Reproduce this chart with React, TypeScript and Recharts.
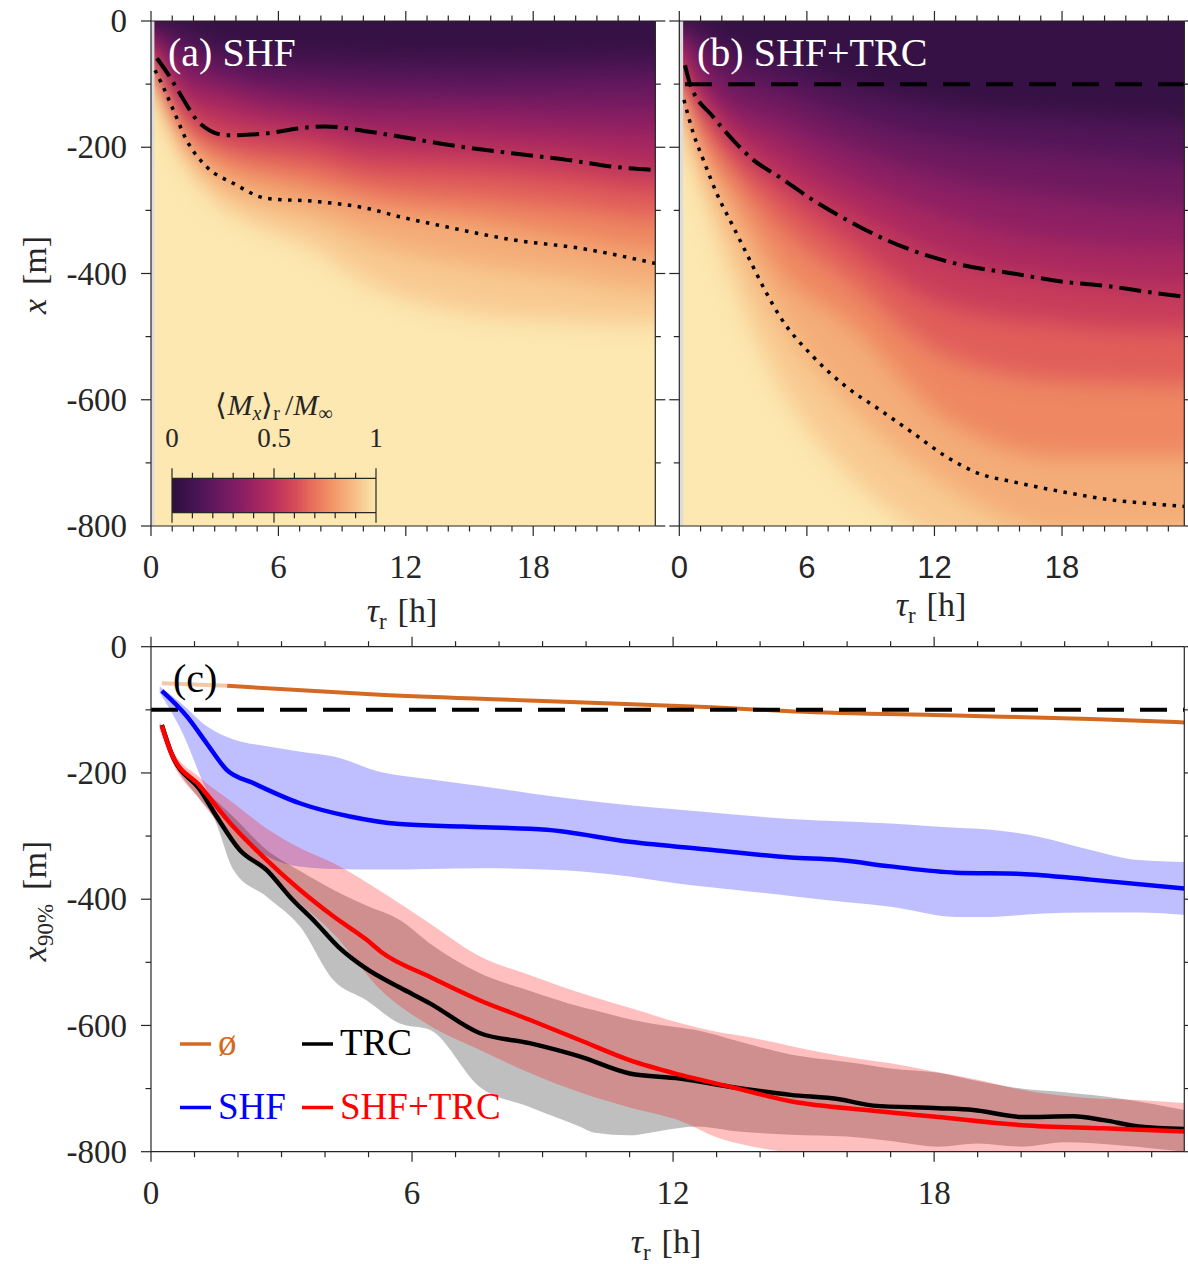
import React from "react";
import { ComposedChart, Area, Line, XAxis, YAxis } from "recharts";

const TAU_MAX = 23.75;
const HEAT_TOP = 150;
const HEAT_BOTTOM = -1000;
const SERIF = '"Liberation Serif", "Times New Roman", serif';
const SANS = '"Liberation Sans", Arial, sans-serif';
const INK = "#262626";
const ORANGE = "#d46a22";

// axis ticks
const hourTicks = [0, 1, 2, 3, 4, 5, 6, 7, 8, 9, 10, 11, 12, 13, 14, 15, 16, 17, 18, 19, 20, 21, 22, 23];
const hourMajors = [0, 6, 12, 18];
const depthTicks = [0, -100, -200, -300, -400, -500, -600, -700, -800];
const depthMajors = [0, -200, -400, -600, -800];
const cbarTicks = [0, 0.1, 0.2, 0.3, 0.4, 0.5, 0.6, 0.7, 0.8, 0.9, 1];
const cbarMajors = [0, 0.5, 1];
const cbarRange = [0, 1];

// colormap
const cmapValues = [0, 0.1, 0.2, 0.3, 0.4, 0.5, 0.6, 0.7, 0.8, 0.9, 0.95, 1];
const cmapColors = ["#2d0f3e", "#431350", "#5f185d", "#7d1c63", "#9c2362", "#ba2f5d", "#d64a58", "#ea735b", "#f29a69", "#f6c087", "#f9d49c", "#fce8b0"];

// contour levels of <Mx>_r / M_inf used to paint the two maps
const heatLevels = [0.1, 0.2, 0.3, 0.4, 0.5, 0.6, 0.7, 0.8, 0.9, 0.95];

// (a) SHF : depth of each level at these times
const aHeatTau = [0, 0.58, 1.68, 3.1, 5.45, 7.5, 10.2, 15.5, 19.5, 23.75];
const aC10 = [-0.5, -6, -15, -38, -55, -58, -60, -62, -60, -58];
const aC20 = [-1, -18, -45, -66, -87, -92, -98, -102, -98, -95];
const aC30 = [-8, -30, -75, -90, -112, -122, -130, -132, -138, -140];
const aC40 = [-18, -45, -105, -115, -138, -147, -162, -168, -175, -182];
const aC50 = [-34, -62, -128, -148, -165, -175, -195, -203, -212, -230];
const aC60 = [-44, -75, -148, -182, -198, -205, -228, -238, -250, -265];
const aC70 = [-50, -84, -163, -200, -226, -238, -262, -282, -295, -312];
const aC80 = [-56, -95, -180, -228, -255, -272, -295, -320, -345, -365];
const aC90 = [-62, -108, -200, -255, -292, -310, -348, -388, -405, -425];
const aC95 = [-70, -122, -222, -285, -330, -358, -415, -465, -475, -480];

// (b) SHF+TRC
const bHeatTau = [0, 0.3, 1, 2.5, 4.6, 8, 12.5, 18, 23.75];
const bC10 = [-1, -3, -12, -45, -65, -100, -135, -150, -160];
const bC20 = [-3, -8, -38, -80, -105, -152, -190, -210, -225];
const bC30 = [-10, -20, -68, -125, -150, -200, -250, -280, -295];
const bC40 = [-25, -40, -92, -152, -190, -250, -310, -350, -360];
const bC50 = [-45, -62, -110, -180, -235, -300, -375, -410, -425];
const bC60 = [-60, -80, -128, -205, -270, -355, -450, -480, -490];
const bC70 = [-72, -92, -155, -235, -320, -410, -530, -570, -575];
const bC80 = [-82, -105, -185, -275, -390, -480, -630, -690, -690];
const bC90 = [-98, -125, -210, -330, -465, -610, -735, -810, -810];
const bC95 = [-125, -160, -250, -410, -570, -720, -830, -890, -890];

// contour lines drawn over the maps
const aDashDotTau = [0.28, 0.9, 1.45, 2.3, 3.57, 5.45, 7.0, 8.2, 10.2, 11.7, 13.6, 17.1, 19.6, 21.8, 23.75];
const aDashDotVal = [-59, -89, -120, -162, -181, -178, -170, -167, -175, -183, -194, -210, -220, -231, -236];
const aDottedTau = [0.19, 0.57, 1.05, 1.68, 2.62, 3.87, 5.45, 7.8, 10.2, 11.7, 13.9, 17.1, 20.2, 23.75];
const aDottedVal = [-78, -104, -141, -189, -231, -257, -281, -286, -297, -310, -326, -347, -360, -384];
const bDashDotTau = [0.27, 0.5, 1.6, 2.54, 3.48, 4.7, 6.3, 7.87, 9.75, 11.8, 13.35, 15.7, 18.05, 20.4, 21.96, 23.75];
const bDashDotVal = [-70, -99, -152, -189, -220, -247, -284, -315, -347, -373, -387, -400, -413, -421, -429, -437];
const bDottedTau = [0.22, 0.66, 1.13, 1.76, 2.54, 3.32, 4.1, 4.73, 6.3, 7.87, 9.43, 11.0, 12.55, 14.1, 15.7, 18.05, 20.4, 21.96, 23.75];
const bDottedVal = [-125, -178, -220, -273, -326, -379, -431, -468, -532, -580, -616, -653, -690, -717, -730, -746, -759, -764, -769];
const refDepthB = [0.27, 23.75];
const refDepthC = [0, 23.75];
const refDepth = -100;

// (c) x90% series
const nullEarlyTau = [0.25, 1.75];
const nullEarlyVal = [-58, -62];
const nullTau = [1.75, 5.26, 9, 12.9, 14.8, 18.5, 21.6, 23.75];
const nullVal = [-62, -76, -86, -96, -102.5, -109, -114.5, -120];

const shfTau = [0.25, 0.82, 1.28, 1.74, 2.35, 3.42, 4.57, 5.72, 7.17, 9.09, 11, 12.9, 14.7, 15.8, 17, 18.5, 20, 21.6, 23.75];
const shfVal = [-70, -110, -153, -195, -216, -248, -269, -281, -285, -290, -309, -322, -334, -338, -348, -358, -360, -369, -383];
const shfBandTau = [0.2, 0.7, 1.3, 1.9, 2.7, 3.4, 4.2, 5.3, 6.4, 7.6, 8.7, 9.9, 11, 12.1, 13.4, 14.7, 16, 17, 18.5, 19.3, 20.4, 21.6, 22.7, 23.75];
const shfBandHi = [-63, -90, -127, -147, -158, -166, -174, -199, -210, -221, -232, -243, -251, -258, -266, -273, -277, -280, -287, -290, -301, -322, -338, -341];
const shfBandLo = [-73, -133, -230, -290, -333, -348, -352, -353, -352, -351, -352, -356, -364, -375, -385, -395, -405, -412, -428, -428, -423, -421, -421, -425];

const trcTau = [0.25, 0.47, 1.13, 1.51, 2.04, 2.66, 3.19, 3.8, 4.3, 4.95, 5.72, 6.41, 7.55, 8.7, 9.85, 11, 12.15, 13.3, 14.7, 15.82, 16.6, 18.1, 18.9, 20.03, 21.2, 21.9, 22.7, 23.75];
const trcVal = [-124, -169, -227, -269, -322, -354, -396, -438, -475, -510, -540, -565, -612, -628, -649, -676, -684, -697, -710, -717, -727, -731, -734, -745, -744, -750, -760, -764];
const trcBandTau = [0.2, 0.5, 1.1, 1.43, 1.9, 2.66, 3.42, 4.19, 4.95, 5.72, 6.41, 7.55, 8.7, 9.85, 10.2, 11, 11.8, 12.5, 13.5, 14.7, 16, 17, 18.1, 19, 20, 21, 22.3, 23.75];
const trcBandHi = [-122, -170, -222, -240, -270, -322, -355, -385, -410, -433, -470, -517, -545, -570, -576, -590, -600, -607, -625, -646, -658, -668, -675, -688, -700, -706, -716, -734];
const trcBandLo = [-128, -180, -240, -269, -354, -396, -443, -528, -560, -597, -607, -697, -729, -760, -770, -774, -766, -760, -768, -773, -776, -783, -792, -787, -792, -785, -790, -800];

const bothTau = [0.25, 0.47, 1.13, 1.89, 2.66, 3.42, 4.19, 4.95, 5.3, 6.41, 7.55, 8.7, 9.85, 11, 12.15, 13.3, 14.7, 16.6, 18.1, 20.03, 21.9, 23.75];
const bothVal = [-125, -169, -221, -285, -338, -385, -427, -464, -484, -523, -560, -591, -623, -655, -678, -697, -720, -735, -745, -758, -763, -768];
const bothBandTau = [0.2, 0.5, 1.1, 1.9, 2.7, 3.4, 4.2, 5.3, 6.4, 7.6, 8.7, 9.9, 11, 12.2, 13, 13.7, 14.8, 16, 17, 18, 19, 20, 21.5, 22.7, 23.75];
const bothBandHi = [-118, -165, -206, -248, -290, -318, -343, -388, -438, -492, -520, -549, -572, -597, -610, -618, -634, -650, -660, -673, -686, -702, -715, -718, -723];
const bothBandLo = [-132, -185, -240, -310, -360, -405, -455, -545, -600, -640, -675, -707, -730, -752, -777, -790, -800, -800, -800, -800, -800, -800, -800, -800, -800];

const legendNames = ["ø", "TRC", "SHF", "SHF+TRC"];
const legendColors = [ORANGE, "#000000", "#0000ff", "#ff0000"];

const zip = (taus: number[], vals: number[]) => taus.map((tau, i) => ({ tau, v: vals[i] }));
const zipBand = (taus: number[], hi: number[], lo: number[]) => taus.map((tau, i) => ({ tau, hi: hi[i], lo: lo[i] }));

function hexRgb(h: string) {
  const n = parseInt(h.slice(1), 16);
  return [n >> 16, (n >> 8) & 255, n & 255];
}

function cmap(v: number) {
  let i = 0;
  while (i < cmapValues.length - 2 && v > cmapValues[i + 1]) i++;
  const t = Math.max(0, Math.min(1, (v - cmapValues[i]) / (cmapValues[i + 1] - cmapValues[i])));
  const a = hexRgb(cmapColors[i]);
  const b = hexRgb(cmapColors[i + 1]);
  return `rgb(${a.map((x, k) => Math.round(x + (b[k] - x) * t)).join(",")})`;
}

function heatRows(taus: number[], contours: number[][]) {
  const rows = taus.map((tau, i) => {
    const r: any = { tau };
    contours.forEach((c, k) => (r["c" + k] = c[i]));
    return r;
  });
  // repeat the edge columns outside the plot so the softened edges get clipped away
  return [{ ...rows[0], tau: -3 }, ...rows, { ...rows[rows.length - 1], tau: 27 }];
}

type Side = "bottom" | "top" | "left" | "right";

function tickMark(side: Side, majors: number[], labelled: boolean, font = SERIF, size = 33, gap?: number) {
  return (props: any) => {
    const { x, y, payload } = props;
    const v = payload.value;
    const major = majors.some((m) => Math.abs(m - v) < 1e-9);
    const len = major ? 10 : 5.5;
    const dx = side === "left" ? -len : side === "right" ? len : 0;
    const dy = side === "bottom" ? len : side === "top" ? -len : 0;
    let label = null;
    if (labelled && major) {
      const common = { fontFamily: font, fontSize: size, fill: INK, style: { fontFamily: font } };
      if (side === "bottom") label = <text x={x} y={y + (gap ?? 52)} textAnchor="middle" {...common}>{String(v)}</text>;
      if (side === "top") label = <text x={x} y={y - (gap ?? 32)} textAnchor="middle" {...common}>{String(v)}</text>;
      if (side === "left") label = <text x={x - (gap ?? 24)} y={y} dy="0.34em" textAnchor="end" {...common}>{String(v)}</text>;
    }
    return (
      <g>
        <line x1={x} y1={y} x2={x + dx} y2={y + dy} stroke={INK} strokeWidth={1.2} />
        {label}
      </g>
    );
  };
}

function frameAxes(xFont: string, xSize: number, yLabels: boolean) {
  const common: any = {
    type: "number",
    allowDataOverflow: true,
    interval: 0,
    tickLine: false,
    tickSize: 0,
    tickMargin: 0,
    axisLine: { stroke: INK, strokeWidth: 1.2 },
  };
  return [
    <XAxis key="xb" xAxisId="b" dataKey="tau" orientation="bottom" height={2} domain={[0, TAU_MAX]} ticks={hourTicks} tick={tickMark("bottom", hourMajors, true, xFont, xSize)} {...common} />,
    <XAxis key="xt" xAxisId="t" dataKey="tau" orientation="top" height={2} domain={[0, TAU_MAX]} ticks={hourTicks} tick={tickMark("top", hourMajors, false)} {...common} />,
    <YAxis key="yl" yAxisId="l" orientation="left" width={2} domain={[-800, 0]} ticks={depthTicks} tick={tickMark("left", depthMajors, yLabels)} {...common} />,
    <YAxis key="yr" yAxisId="r" orientation="right" width={2} domain={[-800, 0]} ticks={depthTicks} tick={tickMark("right", depthMajors, false)} {...common} />,
  ];
}

function HeatPanel({ left, width, margin, rows, stripEnd, lines, xFont, xSize, yLabels }: any) {
  const layers = heatLevels
    .map((lvl, k) => ({ k, fill: cmap(k === 0 ? 0.04 : (heatLevels[k - 1] + lvl) / 2) }))
    .reverse();
  return (
    <div style={{ position: "absolute", left, top: 0 }}>
      <ComposedChart width={width} height={650} data={rows} margin={margin}>
        {frameAxes(xFont, xSize, yLabels)}
        <Area xAxisId="b" yAxisId="l" dataKey={() => [HEAT_TOP, HEAT_BOTTOM]} type="linear" fill={cmap(1)} fillOpacity={1} stroke="none" dot={false} activeDot={false} isAnimationActive={false} />
        {layers.map(({ k, fill }) => (
          <Area
            key={k}
            className="heat-band"
            xAxisId="b"
            yAxisId="l"
            dataKey={(r: any) => [HEAT_TOP, r["c" + k]]}
            type="monotone"
            fill={fill}
            fillOpacity={1}
            stroke="none"
            dot={false}
            activeDot={false}
            isAnimationActive={false}
          />
        ))}
        <Area xAxisId="b" yAxisId="l" data={[{ tau: 0 }, { tau: stripEnd }]} dataKey={() => [HEAT_TOP, HEAT_BOTTOM]} type="linear" fill="#dcdcdc" fillOpacity={1} stroke="none" dot={false} activeDot={false} isAnimationActive={false} />
        {lines.map((l: any, i: number) => (
          <Line
            key={i}
            xAxisId="b"
            yAxisId="l"
            data={l.data}
            dataKey="v"
            type="monotone"
            stroke="#000"
            strokeWidth={l.width}
            strokeDasharray={l.dash}
            dot={false}
            activeDot={false}
            isAnimationActive={false}
          />
        ))}
      </ComposedChart>
    </div>
  );
}

function ColorBar() {
  const rows = cbarRange.map((c) => ({ c }));
  const axis: any = { type: "number", domain: [0, 1], allowDataOverflow: true, interval: 0, tickLine: false, tickSize: 0, tickMargin: 0 };
  return (
    <div style={{ position: "absolute", left: 130, top: 380 }}>
      <ComposedChart width={300} height={160} data={rows} margin={{ top: 96.3, right: 53, bottom: 25.3, left: 41 }}>
        <XAxis xAxisId="t" dataKey="c" orientation="top" height={2} ticks={cbarTicks} axisLine={{ stroke: INK, strokeWidth: 1.2 }} tick={tickMark("top", cbarMajors, true, SERIF, 27, 31.6)} {...axis} />
        <XAxis xAxisId="b" dataKey="c" orientation="bottom" height={2} ticks={cbarTicks} axisLine={{ stroke: INK, strokeWidth: 1.2 }} tick={tickMark("bottom", cbarMajors, false)} {...axis} />
        <YAxis yAxisId="l" orientation="left" width={1} tick={false} ticks={[]} axisLine={{ stroke: INK, strokeWidth: 1.2 }} {...axis} />
        <YAxis yAxisId="r" orientation="right" width={1} tick={false} ticks={[]} axisLine={{ stroke: INK, strokeWidth: 1.2 }} {...axis} />
        <Area xAxisId="t" yAxisId="l" dataKey={() => [0, 1]} type="linear" fill="url(#cbarGrad)" fillOpacity={1} stroke="none" dot={false} activeDot={false} isAnimationActive={false} />
      </ComposedChart>
    </div>
  );
}

function SpreadPanel() {
  const band = (data: any[], color: string) => (
    <Area xAxisId="b" yAxisId="l" data={data} dataKey={(d: any) => [d.lo, d.hi]} type="monotone" fill={color} fillOpacity={0.25} stroke="none" dot={false} activeDot={false} isAnimationActive={false} />
  );
  const line = (data: any[], color: string, width: number, dash?: string) => (
    <Line xAxisId="b" yAxisId="l" data={data} dataKey="v" type="monotone" stroke={color} strokeWidth={width} strokeDasharray={dash} dot={false} activeDot={false} isAnimationActive={false} />
  );
  return (
    <div style={{ position: "absolute", left: 0, top: 630 }}>
      <ComposedChart width={1188} height={634} margin={{ top: 14.7, right: 1.7, bottom: 110.3, left: 149 }}>
        {frameAxes(SERIF, 33, true)}
        {band(zipBand(shfBandTau, shfBandHi, shfBandLo), "#0000ff")}
        {band(zipBand(trcBandTau, trcBandHi, trcBandLo), "#000000")}
        {band(zipBand(bothBandTau, bothBandHi, bothBandLo), "#ff0000")}
        {line(zip(nullEarlyTau, nullEarlyVal), "#f3c8a6", 4)}
        {line(zip(nullTau, nullVal), ORANGE, 4)}
        {line(refDepthC.map((tau) => ({ tau, v: refDepth })), "#000000", 4, "27 16")}
        {line(zip(shfTau, shfVal), "#0000ff", 4.5)}
        {line(zip(trcTau, trcVal), "#000000", 4.5)}
        {line(zip(bothTau, bothVal), "#ff0000", 4.5)}
      </ComposedChart>
    </div>
  );
}

function TauTitle({ cx, y }: { cx: number; y: number }) {
  return (
    <text x={cx} y={y} textAnchor="middle" fontFamily={SERIF} fontSize={34} fill={INK}>
      <tspan fontStyle="italic">τ</tspan>
      <tspan fontSize={23} dy={7}>r</tspan>
      <tspan dx={11} dy={-7}>[h]</tspan>
    </text>
  );
}

function Annotations() {
  const cols = [180, 302];
  const rows = [1044, 1107.5];
  return (
    <svg width={1188} height={1264} style={{ position: "absolute", left: 0, top: 0, pointerEvents: "none" }}>
      <text x={168} y={66} fontFamily={SERIF} fontSize={40} fill="#ffffff">(a) SHF</text>
      <text x={697} y={66} fontFamily={SERIF} fontSize={40} fill="#ffffff">(b) SHF+TRC</text>
      <text x={173} y={692} fontFamily={SERIF} fontSize={40} fill="#000000">(c)</text>

      <TauTitle cx={402} y={622} />
      <TauTitle cx={931} y={616} />
      <TauTitle cx={666} y={1253} />

      <text transform="translate(46 275) rotate(-90)" textAnchor="middle" fontFamily={SERIF} fontSize={34} fill={INK}>
        <tspan fontStyle="italic">x</tspan>
        <tspan dx={14}>[m]</tspan>
      </text>
      <text transform="translate(46 901) rotate(-90)" textAnchor="middle" fontFamily={SERIF} fontSize={34} fill={INK}>
        <tspan fontStyle="italic">x</tspan>
        <tspan fontSize={23} dy={7}>90%</tspan>
        <tspan dx={14} dy={-7}>[m]</tspan>
      </text>

      <text x={274} y={415} textAnchor="middle" fontFamily={SERIF} fontSize={30} fill={INK}>
        ⟨<tspan fontStyle="italic">M</tspan>
        <tspan fontSize={20} dy={5} fontStyle="italic">x</tspan>
        <tspan dy={-5}>⟩</tspan>
        <tspan fontSize={20} dy={5}>r</tspan>
        <tspan dx={5} dy={-5}>/</tspan>
        <tspan fontStyle="italic">M</tspan>
        <tspan fontSize={20} dy={5}>∞</tspan>
      </text>

      {legendNames.map((name, i) => {
        const x = cols[i % 2];
        const y = rows[Math.floor(i / 2)];
        return (
          <g key={name}>
            <line x1={x} y1={y} x2={x + 31} y2={y} stroke={legendColors[i]} strokeWidth={3.5} />
            <text x={x + 38} y={y + 11} fontFamily={SERIF} fontSize={37} fill={legendColors[i]}>{name}</text>
          </g>
        );
      })}
    </svg>
  );
}

export default function App() {
  const rowsA = heatRows(aHeatTau, [aC10, aC20, aC30, aC40, aC50, aC60, aC70, aC80, aC90, aC95]);
  const rowsB = heatRows(bHeatTau, [bC10, bC20, bC30, bC40, bC50, bC60, bC70, bC80, bC90, bC95]);
  const linesA = [
    { data: zip(aDottedTau, aDottedVal), dash: "3.5 6.5", width: 3.5 },
    { data: zip(aDashDotTau, aDashDotVal), dash: "22 7 3.5 7", width: 4 },
  ];
  const linesB = [
    { data: zip(bDottedTau, bDottedVal), dash: "3.5 6.5", width: 3.5 },
    { data: zip(bDashDotTau, bDashDotVal), dash: "22 7 3.5 7", width: 4 },
    { data: refDepthB.map((tau) => ({ tau, v: refDepth })), dash: "27 16", width: 4 },
  ];
  return (
    <div style={{ position: "absolute", left: 0, top: 0, width: 1188, height: 1264, background: "#fff", overflow: "hidden" }}>
      <style>{`.heat-band .recharts-area-area { filter: url(#heatSoft); }`}</style>
      <svg width={0} height={0} style={{ position: "absolute" }}>
        <defs>
          <filter id="heatSoft" x="-10%" y="-15%" width="120%" height="130%" colorInterpolationFilters="sRGB">
            <feGaussianBlur stdDeviation={11} />
          </filter>
          <linearGradient id="cbarGrad" x1="0" y1="0" x2="1" y2="0">
            {cmapValues.map((v, i) => (
              <stop key={v} offset={v} stopColor={cmapColors[i]} />
            ))}
          </linearGradient>
        </defs>
      </svg>
      <HeatPanel
        left={0}
        width={680}
        margin={{ top: 19, right: 22.7, bottom: 122, left: 149 }}
        rows={rowsA}
        stripEnd={0.16}
        lines={linesA}
        xFont={SERIF}
        xSize={33}
        yLabels={true}
      />
      <HeatPanel
        left={660}
        width={528}
        margin={{ top: 19, right: 1.7, bottom: 122, left: 17.3 }}
        rows={rowsB}
        stripEnd={0.18}
        lines={linesB}
        xFont={SANS}
        xSize={31}
        yLabels={false}
      />
      <ColorBar />
      <SpreadPanel />
      <Annotations />
    </div>
  );
}
